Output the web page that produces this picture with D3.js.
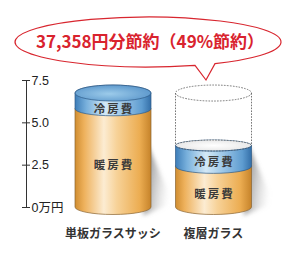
<!DOCTYPE html>
<html><head><meta charset="utf-8">
<script src="https://cdn.jsdelivr.net/npm/d3@7"></script>
<style>
html,body{margin:0;padding:0;background:#fff;}
svg{display:block;}
</style></head>
<body>
<svg id="chart" width="296" height="273"></svg>
<script>
// ---- data ----
const categories = ["単板ガラスサッシ", "複層ガラス"];
const heating = [5.8, 2.4];      // 暖房費 (万円)
const cooling = [0.93, 1.23];    // 冷房費 (万円)
const segmentNames = ["暖房費", "冷房費"];
const tickValues = [0, 2.5, 5.0, 7.5];
const tickLabels = ["0万円", "2.5", "5.0", "7.5"];
const headline = "37,358円分節約（49%節約）";

// ---- scales ----
const svg = d3.select("#chart");
const y = d3.scaleLinear().domain([0, 7.5]).range([207, 80]);
const x = d3.scalePoint().domain(categories).range([113, 213.5]);
const rx = 38;

const defs = svg.append("defs");
function hGrad(id, stops) {
  const g = defs.append("linearGradient").attr("id", id).attr("x1", "0").attr("x2", "1").attr("y1", "0").attr("y2", "0");
  stops.forEach(s => g.append("stop").attr("offset", s[0]).attr("stop-color", s[1]));
}
hGrad("orange", [[0, "#d08d30"], [0.12, "#eeb15c"], [0.38, "#fcecd2"], [0.55, "#f7d298"], [0.85, "#ecad52"], [1, "#c6832a"]]);
hGrad("blue", [[0, "#3d7db8"], [0.15, "#78b0dc"], [0.4, "#d3e8f6"], [0.6, "#a3cbe9"], [0.88, "#5e9cd0"], [1, "#346fa8"]]);
const rg = defs.append("radialGradient").attr("id", "bluetop").attr("cx", "0.45").attr("cy", "0.55").attr("r", "0.6");
rg.append("stop").attr("offset", 0).attr("stop-color", "#9ccbea");
rg.append("stop").attr("offset", 1).attr("stop-color", "#5a96cb");
const wg = defs.append("radialGradient").attr("id", "whitetop").attr("cx", "0.5").attr("cy", "0.5").attr("r", "0.6");
wg.append("stop").attr("offset", 0).attr("stop-color", "#ffffff");
wg.append("stop").attr("offset", 1).attr("stop-color", "#e4e4e4");
const sg = defs.append("linearGradient").attr("id", "shadow").attr("x1", "0").attr("x2", "1").attr("y1", "0").attr("y2", "0.3");
sg.append("stop").attr("offset", 0).attr("stop-color", "#5e5e5e").attr("stop-opacity", 0.95);
sg.append("stop").attr("offset", 1).attr("stop-color", "#bbbbbb").attr("stop-opacity", 0);
defs.append("filter").attr("id", "blur").attr("x", "-50%").attr("y", "-50%").attr("width", "200%").attr("height", "200%")
  .append("feGaussianBlur").attr("stdDeviation", 2.2);

// ---- bubble ----
const bubble = svg.append("g");
const bcx = 148, bcy = 42, brx = 133, bry = 25;
function ePt(t) { return [bcx + brx * Math.cos(t), bcy + bry * Math.sin(t)]; }
const tA = Math.acos((195 - bcx) / brx), tB = Math.acos((215 - bcx) / brx);
const pA = ePt(tA), pB = ePt(tB);
const bubblePath = `M${pA[0]},${pA[1]} L206,80 L${pB[0]},${pB[1]} A${brx},${bry} 0 1 0 ${pA[0]},${pA[1]} Z`;
bubble.append("path").attr("d", bubblePath).attr("fill", "#fff").attr("stroke", "#d8262f").attr("stroke-width", 1.2);
bubble.append("text").attr("x", 150).attr("y", 47.5).attr("text-anchor", "middle")
  .attr("font-family", "'Noto Sans CJK JP', sans-serif").attr("font-weight", "bold").attr("font-size", 17)
  .attr("fill", "#d9232e").text(headline);

// ---- axis ----
const axisX = 26;
const axis = d3.axisRight(y).tickValues(tickValues).tickSize(4).tickSizeOuter(0).tickPadding(1.5)
  .tickFormat((d, i) => tickLabels[i]);
const ag = svg.append("g").attr("transform", `translate(${axisX},0)`).call(axis);
ag.select(".domain").attr("stroke", "#333").attr("stroke-width", 1);
ag.selectAll(".tick line").attr("x1", -4).attr("stroke", "#333");
ag.selectAll(".tick text").attr("font-family", "'Liberation Sans', 'Noto Sans CJK JP', sans-serif")
  .attr("font-size", 12.5).attr("fill", "#222");

// ---- cylinders ----
function body(cx, yb, yt, rb, rt) {
  const L = cx - rx, R = cx + rx;
  return `M${L},${yt} L${L},${yb} A${rx},${rb} 0 0 0 ${R},${yb} L${R},${yt} A${rx},${rt} 0 0 0 ${L},${yt} Z`;
}
const rBottom = 7.5, rBound = 7, rTop = 8, rInner = 5.5;
const textFont = "'Noto Sans CJK JP', sans-serif";

categories.forEach((c, i) => {
  const cx = x(c);
  const y0 = y(0), y1 = y(heating[i]), y2 = y(heating[i] + cooling[i]);
  const isLast = i === categories.length - 1;
  const topR = isLast ? rInner : rTop;
  const g = svg.append("g");
  // shadow
  g.append("path")
    .attr("d", `M${cx + rx - 3},${y0 - 62} L${cx + rx + 22},${y0 - 4} L${cx + rx - 8},${y0 + rBottom + 1} Z`)
    .attr("fill", "url(#shadow)").attr("filter", "url(#blur)");
  // ghost (previous total) on the last cylinder
  if (isLast) {
    const yg = y(heating[0] + cooling[0]);
    const dash = "1.6,1.3";
    g.append("ellipse").attr("cx", cx).attr("cy", yg).attr("rx", rx).attr("ry", rTop)
      .attr("fill", "none").attr("stroke", "#666").attr("stroke-width", 0.9).attr("stroke-dasharray", dash);
    [cx - rx, cx + rx].forEach(xx => g.append("line").attr("x1", xx).attr("x2", xx).attr("y1", yg).attr("y2", y2)
      .attr("stroke", "#666").attr("stroke-width", 0.9).attr("stroke-dasharray", dash));
  }
  // heating
  g.append("path").attr("d", body(cx, y0, y1, rBottom, rBound))
    .attr("fill", "url(#orange)").attr("stroke", "#8a6432").attr("stroke-width", 0.7);
  // cooling
  g.append("path").attr("d", body(cx, y1, y2, rBound, topR))
    .attr("fill", "url(#blue)").attr("stroke", "#2e5a86").attr("stroke-width", 0.7);
  // top face
  if (isLast) {
    g.append("ellipse").attr("cx", cx).attr("cy", y2).attr("rx", rx).attr("ry", topR)
      .attr("fill", "url(#whitetop)").attr("stroke", "#555").attr("stroke-width", 0.8).attr("stroke-dasharray", "1.6,1.3");
    g.append("path").attr("d", `M${cx - rx},${y2} A${rx},${topR} 0 0 0 ${cx + rx},${y2}`)
      .attr("fill", "none").attr("stroke", "#2e5a86").attr("stroke-width", 0.8);
  } else {
    g.append("ellipse").attr("cx", cx).attr("cy", y2).attr("rx", rx).attr("ry", topR)
      .attr("fill", "url(#bluetop)").attr("stroke", "#2e5a86").attr("stroke-width", 0.7);
  }
  // labels
  const hy = ((y1 + rBound) + (y0 + rBottom)) / 2;
  const cy2 = ((y2 + topR) + (y1 + rBound)) / 2;
  [[hy, segmentNames[0]], [cy2, segmentNames[1]]].forEach(([ty, t]) => {
    g.append("text").attr("x", cx + 1).attr("y", ty).attr("dy", "0.36em").attr("text-anchor", "middle")
      .attr("font-family", textFont).attr("font-weight", "bold").attr("font-size", 11.5)
      .attr("letter-spacing", 2).attr("fill", "#3a3a3a").text(t);
  });
  // category label
  svg.append("text").attr("x", cx).attr("y", 234).attr("dy", "0.36em").attr("text-anchor", "middle")
    .attr("font-family", textFont).attr("font-weight", "bold").attr("font-size", 12)
    .attr("fill", "#333").text(c);
});
</script>
</body></html>
